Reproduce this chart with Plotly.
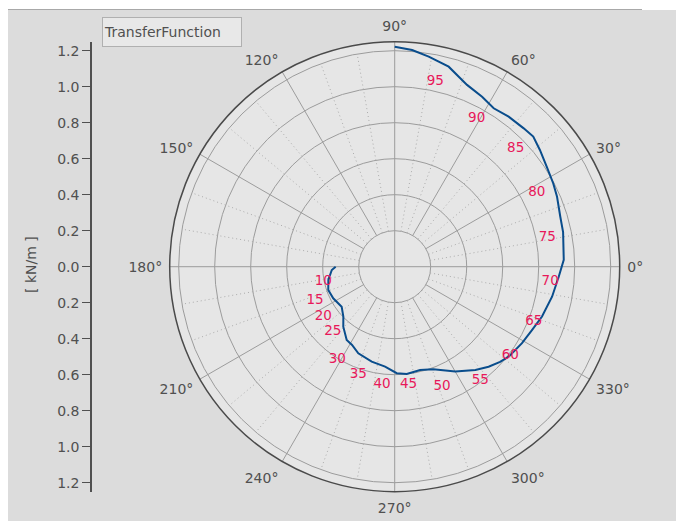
import plotly.graph_objects as go

# ---- data ----
curve_theta = [180.0, 183.0, 191.3, 199.3, 207.2, 217.0, 224.2, 229.4, 236.8, 241.4,
               247.2, 256.4, 264.5, 271.1, 276.4, 283.8, 290.6, 300.0, 308.0, 313.2,
               317.9, 321.7, 329.0, 335.2, 341.3, 349.2, 356.5, 362.3, 371.6, 376.8,
               383.3, 387.7, 393.3, 398.8, 403.2, 407.0, 412.8, 418.0, 422.8, 428.3,
               434.9, 440.8, 445.4, 450.0]
curve_r = [0.328, 0.350, 0.376, 0.391, 0.384, 0.369, 0.398, 0.439, 0.487, 0.495,
           0.522, 0.543, 0.558, 0.592, 0.600, 0.591, 0.609, 0.673, 0.728, 0.762,
           0.789, 0.807, 0.825, 0.840, 0.864, 0.890, 0.913, 0.940, 0.955, 0.961,
           0.982, 0.995, 1.011, 1.035, 1.056, 1.051, 1.047, 1.038, 1.062, 1.087,
           1.151, 1.182, 1.208, 1.222]

label_freq = [10, 15, 20, 25, 30, 35, 40, 45, 50, 55, 60, 65, 70, 75, 80, 85, 90, 95]
label_theta = [191.9, 203.1, 215.0, 226.4, 238.2, 251.4, 263.9, 276.7, 291.5, 306.9,
               322.4, 338.4, 354.5, 10.9, 27.6, 44.4, 61.1, 77.6]
label_r = [0.405, 0.481, 0.484, 0.499, 0.605, 0.635, 0.661, 0.662, 0.717, 0.792,
           0.811, 0.831, 0.868, 0.863, 0.891, 0.941, 0.942, 1.052]

angle_ticks = [0, 30, 60, 90, 120, 150, 180, 210, 240, 270, 300, 330]
angle_text = [f"{a}°" for a in angle_ticks]
ring_vals = [0.2, 0.4, 0.6, 0.8, 1.0, 1.2]
left_vals = [-1.2, -1.0, -0.8, -0.6, -0.4, -0.2, 0.0, 0.2, 0.4, 0.6, 0.8, 1.0, 1.2]
left_text = [f"{abs(v):.1f}" for v in left_vals]

R_MAX = 1.25
FONT = "DejaVu Sans"

# the page body has an 8px default margin; lay out in window pixels and convert
OFF = 8
W, H = 684 - OFF, 521 - OFF


def px(x):
    return (x - OFF) / W


def py(y):
    return (H - (y - OFF)) / H


cx, cy, rad = 394.7, 266.7, 225.0
dom_x = [px(cx - rad), px(cx + rad)]
dom_y = [py(cy + rad), py(cy - rad)]


def spokes(angles, r0, r1):
    th, rr = [], []
    for a in angles:
        th += [a, a, None]
        rr += [r0, r1, None]
    return th, rr


fig = go.Figure()

axis_angles = [0, 90, 180, 270]
major_angles = [a for a in angle_ticks if a % 90 != 0]
minor_angles = [a for a in range(0, 360, 10) if a % 30 != 0]

th, rr = spokes(minor_angles, 0.2, 1.2)
fig.add_trace(go.Scatterpolar(theta=th, r=rr, mode="lines", hoverinfo="skip",
                              line=dict(color="#ababab", width=1, dash="1px,3px"),
                              showlegend=False))
th, rr = spokes(major_angles, 0.2, R_MAX)
fig.add_trace(go.Scatterpolar(theta=th, r=rr, mode="lines", hoverinfo="skip",
                              line=dict(color="#9c9c9c", width=1), showlegend=False))
th, rr = spokes(axis_angles, 0.0, R_MAX)
fig.add_trace(go.Scatterpolar(theta=th, r=rr, mode="lines", hoverinfo="skip",
                              line=dict(color="#9c9c9c", width=1), showlegend=False))

fig.add_trace(go.Scatterpolar(theta=curve_theta, r=curve_r, mode="lines",
                              line=dict(color="#0a4d8c", width=2),
                              name="TransferFunction", showlegend=False))
fig.add_trace(go.Scatterpolar(theta=label_theta, r=label_r, mode="text",
                              text=[str(f) for f in label_freq],
                              textfont=dict(family=FONT, size=13.5, color="#e8185a"),
                              showlegend=False, hoverinfo="skip"))

fig.add_trace(go.Scatter(x=[0], y=[0], mode="markers", marker=dict(opacity=0),
                         hoverinfo="skip", showlegend=False, xaxis="x", yaxis="y"))

fig.update_layout(
    width=W, height=H,
    margin=dict(l=0, r=0, t=0, b=0),
    paper_bgcolor="white",
    plot_bgcolor="rgba(0,0,0,0)",
    font=dict(family=FONT, size=13, color="#505050"),
    polar=dict(
        domain=dict(x=dom_x, y=dom_y),
        bgcolor="#e6e6e6",
        radialaxis=dict(range=[0, R_MAX], tickvals=ring_vals, showticklabels=False,
                        showline=False, ticks="", gridcolor="#9c9c9c", gridwidth=1),
        angularaxis=dict(direction="counterclockwise", rotation=0,
                         tickvals=angle_ticks, ticktext=angle_text,
                         ticks="outside", ticklen=4, tickcolor="rgba(0,0,0,0)",
                         showgrid=False, showline=True, linecolor="#4a4a4a",
                         linewidth=1.5,
                         tickfont=dict(family=FONT, size=14, color="#505050")),
    ),
    xaxis=dict(domain=[px(92), px(150)], visible=False, range=[-1, 1]),
    yaxis=dict(domain=dom_y, range=[-R_MAX, R_MAX], tickvals=left_vals,
               ticktext=left_text, showline=True, linecolor="#505050",
               linewidth=1.5, ticks="outside", ticklen=8, tickcolor="#505050",
               showgrid=False, zeroline=False, anchor="x",
               tickfont=dict(family=FONT, size=14, color="#505050")),
    shapes=[
        dict(type="rect", xref="paper", yref="paper", x0=0, x1=1,
             y0=0, y1=py(10), fillcolor="#dcdcdc", line=dict(width=0),
             layer="below"),
        dict(type="line", xref="paper", yref="paper", x0=0, x1=px(642),
             y0=py(9.5), y1=py(9.5), line=dict(color="#a8a8a8", width=1),
             layer="below"),
    ],
    annotations=[
        dict(text="[ kN/m ]", textangle=-90, xref="paper", yref="paper",
             x=px(21), y=py(265), showarrow=False,
             font=dict(family=FONT, size=14, color="#505050")),
        dict(text="TransferFunction", xref="paper", yref="paper",
             x=px(102), y=py(17), xanchor="left", yanchor="top",
             width=136, height=26, align="left", valign="middle",
             bgcolor="#e8e8e8", bordercolor="#b0b0b0", borderwidth=1, borderpad=1,
             showarrow=False, font=dict(family=FONT, size=14, color="#505050")),
    ],
)

fig.write_html("out.html")
